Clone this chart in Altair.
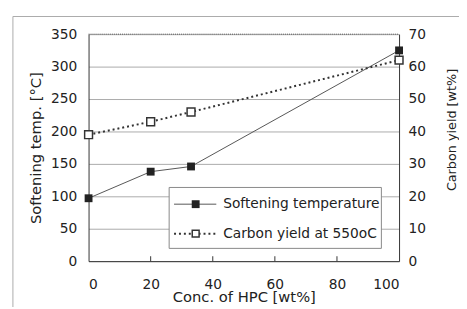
import altair as alt
import pandas as pd

# data
hpc = [0, 20, 33, 100]
softening = [97, 138, 146, 325]
carbon_yield = [39, 43, 46, 62]
x_ticks = [0, 20, 40, 60, 80, 100]
x_inner_ticks = [20, 40, 60, 80]
left_ticks = [0, 50, 100, 150, 200, 250, 300, 350]
right_ticks = [0, 10, 20, 30, 40, 50, 60, 70]
legend_labels = ["Softening temperature", "Carbon yield at 550oC"]

W, H = 316, 231
FONT = "DejaVu Sans"
DARK = "#333333"

df = pd.DataFrame({"hpc": hpc, "soft": softening, "carbon": carbon_yield})
tick_df = pd.DataFrame({"hpc": x_inner_ticks})
one = pd.DataFrame({"k": [0]})

x_enc = alt.X(
    "hpc:Q",
    scale=alt.Scale(domain=[0, 100], nice=False),
    axis=alt.Axis(
        values=x_ticks, title="Conc. of HPC [wt%]", grid=False, ticks=False,
        labelPadding=17, titleY=29, titleBaseline="top", domainColor=DARK,
    ),
)

y_left = alt.Y(
    "soft:Q",
    scale=alt.Scale(domain=[0, 350], nice=False),
    axis=alt.Axis(
        values=left_ticks, title="Softening temp. [°C]", grid=True,
        gridColor="#aaaaaa", ticks=False, labelPadding=12, titlePadding=7,
        domainColor=DARK,
    ),
)
y_right = alt.Y(
    "carbon:Q",
    scale=alt.Scale(domain=[0, 70], nice=False),
    axis=alt.Axis(
        values=right_ticks, title="Carbon yield [wt%]", orient="right",
        grid=False, ticks=False, labelPadding=9, titlePadding=34,
        titleAngle=270, titleY=97, titleFontSize=13, domainColor=DARK,
    ),
)

soft_base = alt.Chart(df).encode(x=x_enc, y=y_left)
soft_layer = alt.layer(
    soft_base.mark_line(color="#555555", strokeWidth=1),
    soft_base.mark_point(shape="square", filled=True, size=64, color="#222222",
                         opacity=1, clip=False),
)

carbon_base = alt.Chart(df).encode(x=x_enc, y=y_right)
carbon_layer = alt.layer(
    carbon_base.mark_line(color=DARK, strokeWidth=2, strokeDash=[2, 3]),
    carbon_base.mark_point(shape="square", filled=True, size=64, fill="white",
                           stroke=DARK, strokeWidth=1.5, opacity=1, clip=False),
)

inner_ticks = alt.Chart(tick_df).mark_rule(color=DARK).encode(
    x=x_enc, y=alt.value(H - 5), y2=alt.value(H)
)

top_border = alt.Chart(one).mark_rule(color="#555555", strokeDash=[1, 1]).encode(
    x=alt.value(0), x2=alt.value(W), y=alt.value(0)
)

frame_left = alt.Chart(one).mark_rule(color="#aaaaaa").encode(
    x=alt.value(-77), y=alt.value(-18), y2=alt.value(H + 70)
)
frame_top = alt.Chart(one).mark_rule(color="#aaaaaa").encode(
    x=alt.value(-77), x2=alt.value(W + 90), y=alt.value(-18)
)

legend_box = alt.Chart(one).mark_rect(fill="white", stroke="#888888", strokeWidth=1).encode(
    x=alt.value(82), x2=alt.value(298), y=alt.value(156), y2=alt.value(218)
)
leg1_line = alt.Chart(one).mark_rule(color="#555555", strokeWidth=1).encode(
    x=alt.value(87), x2=alt.value(130), y=alt.value(173)
)
leg1_sym = alt.Chart(one).mark_point(shape="square", filled=True, size=64,
                                     color="#222222", opacity=1).encode(
    x=alt.value(109), y=alt.value(173)
)
leg1_text = alt.Chart(one).mark_text(text=legend_labels[0], align="left", baseline="middle",
                                     font=FONT, fontSize=14, fontWeight="normal",
                                     color="#222222").encode(
    x=alt.value(137), y=alt.value(173)
)
leg2_line = alt.Chart(one).mark_rule(color=DARK, strokeWidth=2, strokeDash=[2, 3]).encode(
    x=alt.value(87), x2=alt.value(130), y=alt.value(203)
)
leg2_sym = alt.Chart(one).mark_point(shape="square", filled=True, size=49, fill="white",
                                     stroke=DARK, strokeWidth=1.5, opacity=1).encode(
    x=alt.value(109), y=alt.value(203)
)
leg2_text = alt.Chart(one).mark_text(text=legend_labels[1], align="left", baseline="middle",
                                     font=FONT, fontSize=14, fontWeight="normal",
                                     color="#222222").encode(
    x=alt.value(137), y=alt.value(203)
)

chart = alt.layer(
    frame_left, frame_top, soft_layer, carbon_layer, inner_ticks, top_border,
    legend_box, leg1_line, leg1_sym, leg1_text, leg2_line, leg2_sym, leg2_text,
).resolve_scale(y="independent").properties(
    width=W, height=H,
    padding={"left": 82, "top": 24, "right": 61, "bottom": 44},
    autosize=alt.AutoSizeParams(type="none"),
).configure_view(stroke=None).configure_axis(
    labelFont=FONT, labelFontSize=14, labelColor="#222222",
    titleFont=FONT, titleFontSize=15, titleFontWeight="normal", titleColor="#222222",
)

chart.save("out.html", embed_options={"renderer": "svg", "actions": False})
